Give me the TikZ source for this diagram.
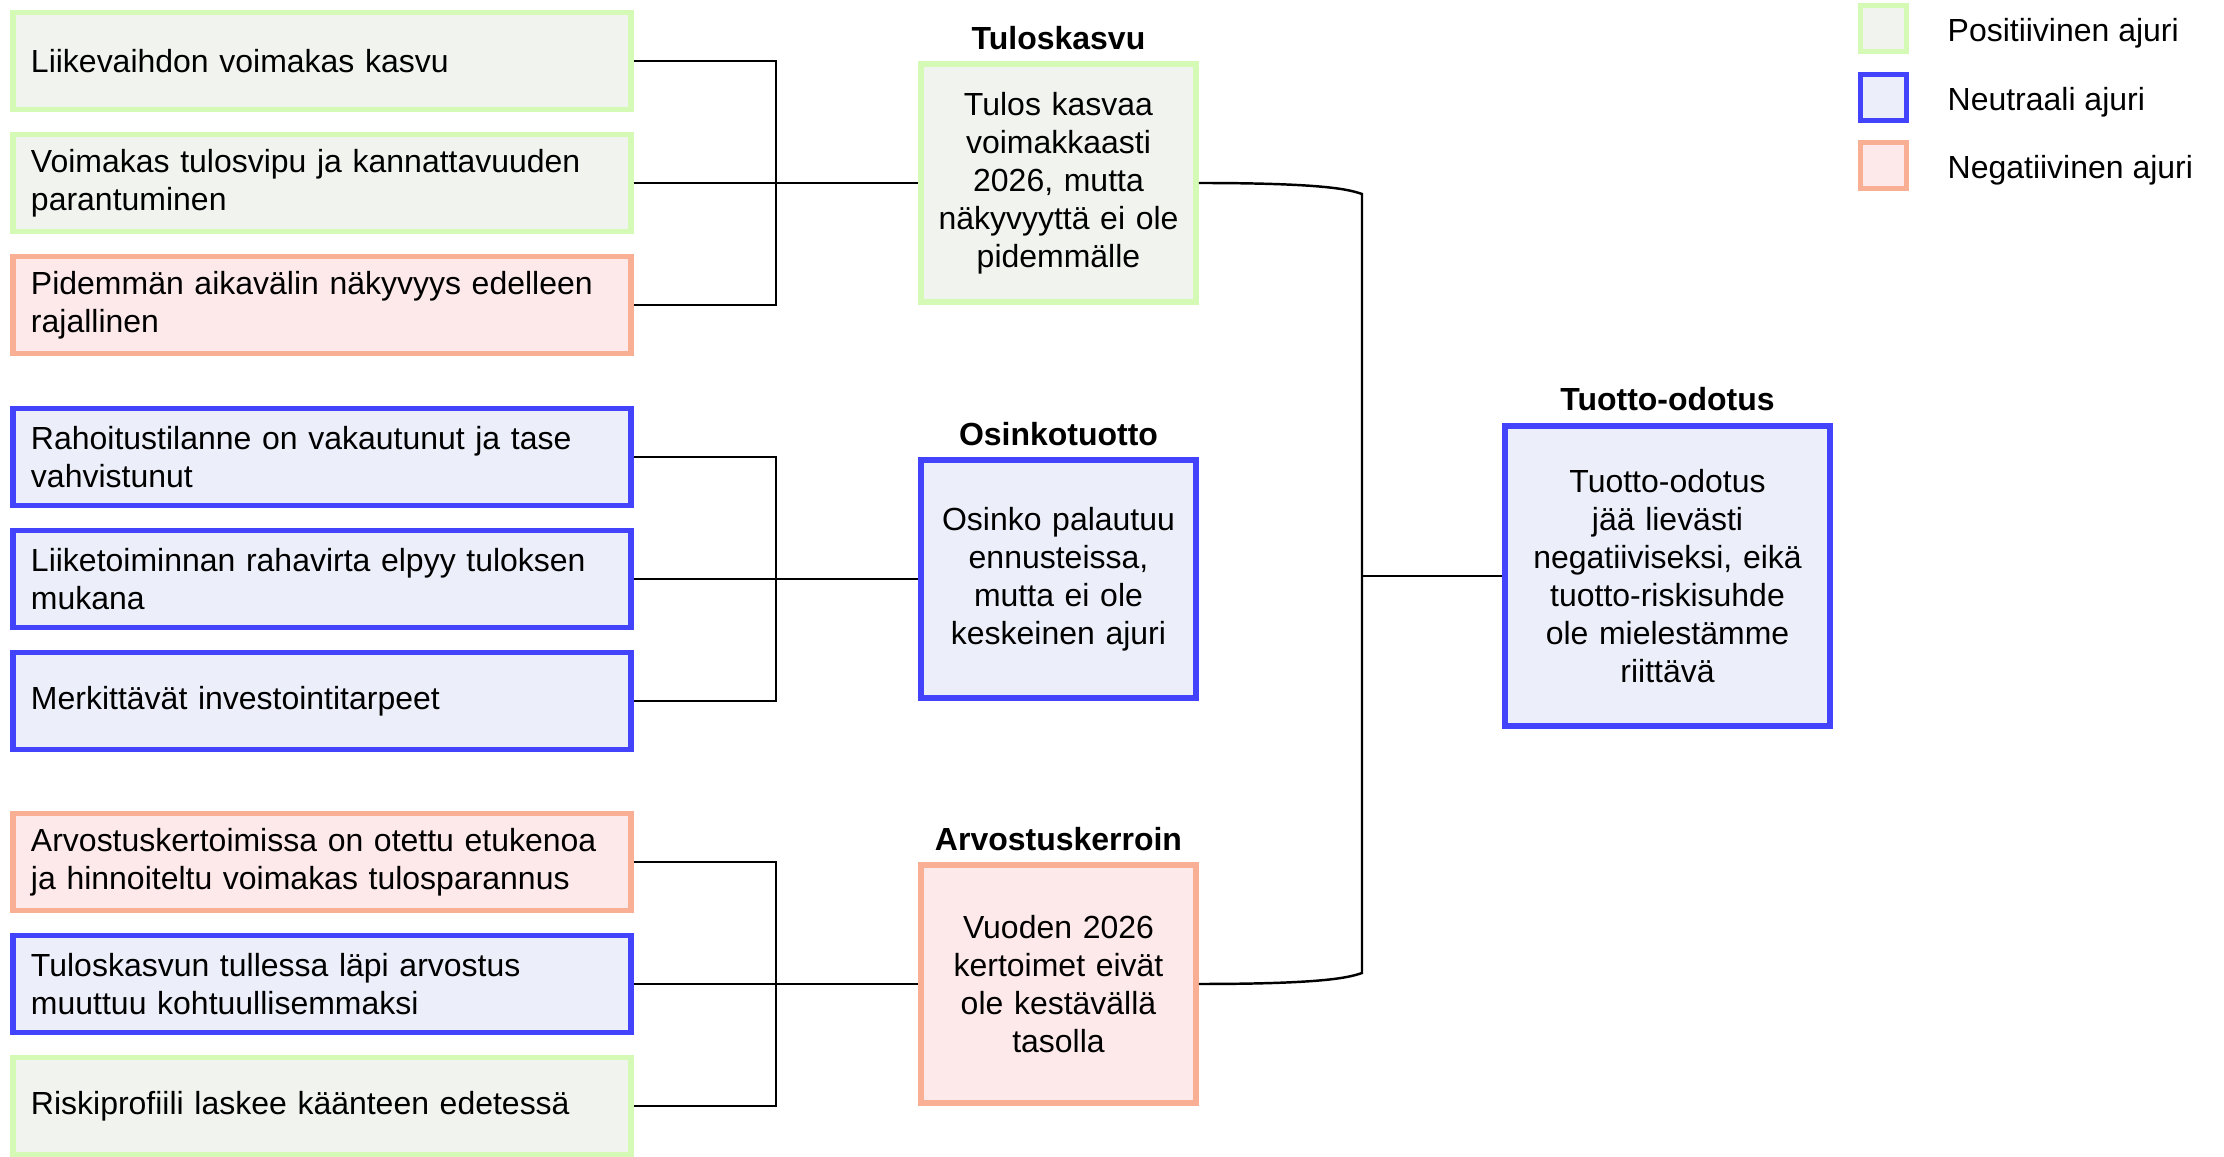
\documentclass[tikz,border=0pt]{standalone}
\usepackage{fontspec}
\setmainfont{Liberation Sans}
\usepackage{xcolor}
\usepackage{tikz}
\usetikzlibrary{positioning}
\definecolor{posline}{RGB}{213, 250, 181}
\definecolor{posfill}{RGB}{241, 243, 238}
\definecolor{neuline}{RGB}{67, 67, 251}
\definecolor{neufill}{RGB}{236, 239, 249}
\definecolor{negline}{RGB}{249, 175, 147}
\definecolor{negfill}{RGB}{253, 233, 233}

\begin{document}
\begin{tikzpicture}[
  every node/.style={font=\fontsize{9.1}{10.8}\selectfont},
  posbox/.style={draw=posline, fill=posfill},
  neubox/.style={draw=neuline, fill=neufill},
  negbox/.style={draw=negline, fill=negfill},
  drvbox/.style={rectangle, line width=1.6pt, text width=5.82cm, inner xsep=0.18cm,
    minimum height=0.97cm, align=left},
  midbox/.style={rectangle, line width=1.6pt, text width=2.6cm, inner xsep=0.075cm,
    minimum height=2.38cm, align=center},
  endbox/.style={rectangle, line width=1.6pt, text width=3.05cm, inner xsep=0.1cm,
    minimum height=3.0cm, align=center},
  headtext/.style={font=\fontsize{9.1}{10.8}\selectfont\bfseries, inner sep=0pt},
  keybox/.style={rectangle, line width=1.4pt, minimum size=0.46cm, inner sep=0pt},
  keytext/.style={inner sep=0pt, anchor=west, yshift=-0.05cm},
  link/.style={line width=0.7pt, black},
]
  \useasboundingbox (0,0) rectangle (22.24,11.57);

  % Drivers (left column)
  \node[drvbox, posbox] (d1) at (3.22,10.96) {Liikevaihdon voimakas kasvu};
  \node[drvbox, posbox] (d2) at (3.22,9.74) {Voimakas tulosvipu ja kannattavuuden\\parantuminen};
  \node[drvbox, negbox] (d3) at (3.22,8.52) {Pidemmän aikavälin näkyvyys edelleen\\rajallinen};
  \node[drvbox, neubox] (d4) at (3.22,7.00) {Rahoitustilanne on vakautunut ja tase\\vahvistunut};
  \node[drvbox, neubox] (d5) at (3.22,5.78) {Liiketoiminnan rahavirta elpyy tuloksen\\mukana};
  \node[drvbox, neubox] (d6) at (3.22,4.56) {Merkittävät investointitarpeet};
  \node[drvbox, negbox] (d7) at (3.22,2.95) {Arvostuskertoimissa on otettu etukenoa\\ja hinnoiteltu voimakas tulosparannus};
  \node[drvbox, neubox] (d8) at (3.22,1.73) {Tuloskasvun tullessa läpi arvostus\\muuttuu kohtuullisemmaksi};
  \node[drvbox, posbox] (d9) at (3.22,0.51) {Riskiprofiili laskee käänteen edetessä};

  % Components (middle column)
  \node[midbox, posbox] (tk) at (10.585,9.74) {Tulos kasvaa\\voimakkaasti\\2026, mutta\\näkyvyyttä ei ole\\pidemmälle};
  \node[midbox, neubox] (ot) at (10.585,5.78) {Osinko palautuu\\ennusteissa,\\mutta ei ole\\keskeinen ajuri};
  \node[midbox, negbox] (ak) at (10.585,1.73) {Vuoden 2026\\kertoimet eivät\\ole kestävällä\\tasolla};
  \node[headtext, above=0.11cm of tk] (tkh) {Tuloskasvu};
  \node[headtext, above=0.11cm of ot] (oth) {Osinkotuotto};
  \node[headtext, above=0.11cm of ak] (akh) {Arvostuskerroin};

  % Result (right)
  \node[endbox, neubox] (to) at (16.675,5.81) {Tuotto-odotus\\jää lievästi\\negatiiviseksi, eikä\\tuotto-riskisuhde\\ole mielestämme\\riittävä};
  \node[headtext, above=0.12cm of to] (toh) {Tuotto-odotus};

  % Connectors
  \coordinate (j1) at (7.76,9.74);
  \coordinate (j2) at (7.76,5.78);
  \coordinate (j3) at (7.76,1.73);
  \foreach \d/\j in {d1/j1, d2/j1, d3/j1, d4/j2, d5/j2, d6/j2, d7/j3, d8/j3, d9/j3} {
    \draw[link] (\d.east) -| (\j);
  }
  \draw[link] (j1) -- (tk.west);
  \draw[link] (j2) -- (ot.west);
  \draw[link] (j3) -- (ak.west);

  \coordinate (rt) at (13.62,9.63);
  \coordinate (rb) at (13.62,1.84);
  \coordinate (rm) at (13.62,5.81);
  \draw[link] (tk.east) .. controls +(1.3,0) and +(-0.12,0.04) .. (rt)
    -- (rb) .. controls +(-0.12,-0.04) and +(1.3,0) .. (ak.east);
  \draw[link] (rm) -- (to.west);

  % Legend
  \node[keybox, posbox] (k1) at (18.835,11.285) {};
  \node[keybox, neubox] (k2) at (18.835,10.595) {};
  \node[keybox, negbox] (k3) at (18.835,9.915) {};
  \node[keytext, right=0.38cm of k1] (k1t) {Positiivinen ajuri};
  \node[keytext, right=0.38cm of k2] (k2t) {Neutraali ajuri};
  \node[keytext, right=0.38cm of k3] (k3t) {Negatiivinen ajuri};

\end{tikzpicture}
\end{document}
